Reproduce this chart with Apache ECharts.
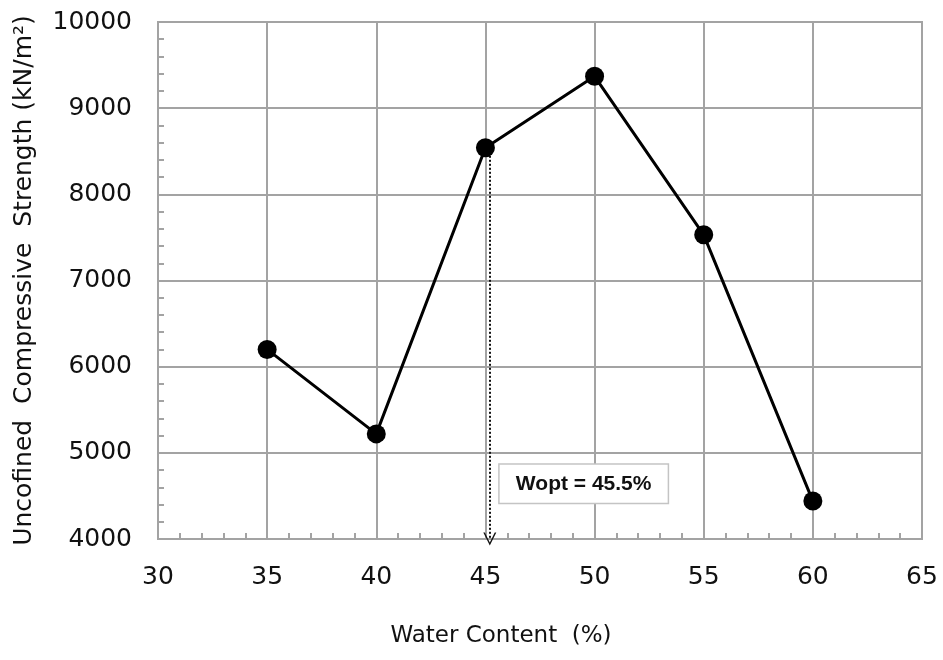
<!DOCTYPE html>
<html>
<head>
<meta charset="utf-8">
<script src="https://cdn.jsdelivr.net/npm/echarts@6/dist/echarts.min.js"></script>
<style>
  html, body { margin: 0; padding: 0; background: #fff; }
  #chart { width: 943px; height: 660px; }
</style>
</head>
<body>
<div id="chart"></div>
<script>
// water content (%) and unconfined compressive strength (kN/m2)
var waterContent = [35, 40, 45, 50, 55, 60];
var strength = [6200, 5220, 8540, 9370, 7530, 4440];

// optimum water content marker
var woptX = 45.2;
var woptLabel = 'Wopt = 45.5%';
var woptBox = [49.5, 4640];

var xTitle = 'Water Content  (%)';
var yTitle = 'Uncofined  Compressive  Strength (kN/m\u00B2)';

var gridColor = '#a3a3a3';
var font = 'DejaVu Sans';

var chart = echarts.init(document.getElementById('chart'));

var points = [];
for (var i = 0; i < waterContent.length; i++) {
    points.push([waterContent[i], strength[i]]);
}

chart.setOption({
    animation: false,
    grid: {
        left: 158, right: 21, top: 22, bottom: 121,
        show: true, borderColor: gridColor, borderWidth: 2
    },
    xAxis: {
        type: 'value',
        min: 30, max: 65, interval: 5,
        name: xTitle,
        nameLocation: 'middle',
        nameGap: 86,
        nameTextStyle: {fontFamily: font, fontSize: 23, color: '#111', padding: [0, 78, 0, 0]},
        axisLine: {show: true, lineStyle: {color: gridColor, width: 2}},
        axisTick: {show: false, inside: true},
        minorTick: {show: true, splitNumber: 5, length: 6, lineStyle: {color: gridColor, width: 2}},
        axisLabel: {fontFamily: font, fontSize: 25, color: '#111', margin: 26},
        splitLine: {show: true, lineStyle: {color: gridColor, width: 2}}
    },
    yAxis: {
        type: 'value',
        min: 4000, max: 10000, interval: 1000,
        name: yTitle,
        nameLocation: 'middle',
        nameGap: 121,
        nameTextStyle: {fontFamily: font, fontSize: 25, color: '#111'},
        axisLine: {show: true, lineStyle: {color: gridColor, width: 2}},
        axisTick: {show: false, inside: true},
        minorTick: {show: true, splitNumber: 5, length: 6, lineStyle: {color: gridColor, width: 2}},
        axisLabel: {
            fontFamily: font, fontSize: 25, color: '#111', margin: 26,
            formatter: function (v) { return String(v); }
        },
        splitLine: {show: true, lineStyle: {color: gridColor, width: 2}}
    },
    series: [{
        type: 'line',
        data: points,
        symbol: 'circle',
        symbolSize: 19,
        itemStyle: {color: '#000'},
        lineStyle: {color: '#000', width: 3},
        z: 5,
        markLine: {
            silent: true,
            symbolSize: [13, 13],
            lineStyle: {color: '#111', type: 'dotted', width: 2},
            label: {show: false},
            data: [[
                {coord: [woptX, strength[2]], symbol: 'none'},
                {coord: [woptX, 4000], symbol: 'path://M0,10 L5,0 L10,10 L8.8,10 L5,2.4 L1.2,10 Z'}
            ]]
        },
        markPoint: {
            silent: true,
            symbol: 'rect',
            symbolSize: 0,
            label: {
                show: true,
                position: 'inside',
                color: '#111',
                fontFamily: 'Liberation Sans',
                fontWeight: 'bold',
                fontSize: 21,
                backgroundColor: '#fff',
                borderColor: '#c4c4c4',
                borderWidth: 1.5,
                width: 168,
                height: 38,
                lineHeight: 38,
                align: 'center',
                verticalAlign: 'middle',
                formatter: woptLabel
            },
            data: [{coord: woptBox, value: woptLabel}]
        }
    }]
});
</script>
</body>
</html>
